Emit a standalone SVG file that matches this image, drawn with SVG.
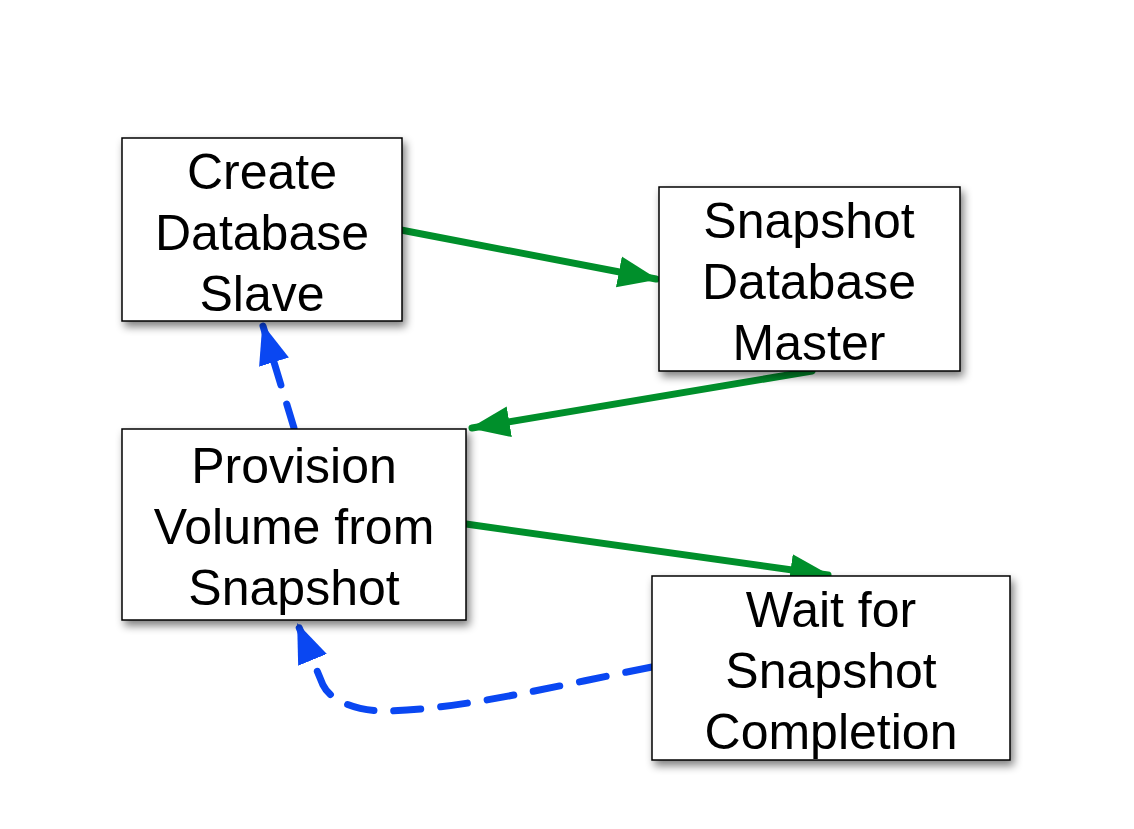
<svg xmlns="http://www.w3.org/2000/svg" width="1134" height="829" viewBox="0 0 1134 829">
<style>
.box{fill:#fff;stroke:#000;stroke-width:1.5;filter:url(#sh)}
.t{font-family:"Liberation Sans",Arial,sans-serif;font-size:50px;fill:#000;text-anchor:middle}
.g{fill:none;stroke:#008f2b;stroke-width:7;stroke-linecap:round;marker-end:url(#ag)}
.b{fill:none;stroke:#0a47f2;stroke-width:7;stroke-linecap:round;marker-end:url(#ab)}
</style>
<defs>
<filter id="sh" x="-10%" y="-10%" width="130%" height="130%">
<feGaussianBlur in="SourceAlpha" stdDeviation="4"/>
<feOffset dx="3" dy="5" result="o"/>
<feComponentTransfer><feFuncA type="linear" slope="0.5"/></feComponentTransfer>
<feMerge><feMergeNode/><feMergeNode in="SourceGraphic"/></feMerge>
</filter>
<marker id="ag" markerUnits="userSpaceOnUse" markerWidth="40" markerHeight="40" viewBox="0 0 36 28" refX="34" refY="14" orient="auto">
<path d="M0,0 L36,14 L0,28 Z" fill="#008f2b"/>
</marker>
<marker id="ab" markerUnits="userSpaceOnUse" markerWidth="40" markerHeight="40" viewBox="0 0 36 28" refX="34" refY="14" orient="auto">
<path d="M0,0 L36,14 L0,28 Z" fill="#0a47f2"/>
</marker>
</defs>
<g id="connectors">
<path class="g" d="M401,230 L656,279"/>
<path class="g" d="M812,371 L472,428"/>
<path class="g" d="M466,524 L828,575"/>
<path class="b" d="M294,428 L263,326" stroke-dasharray="25 20"/>
<path class="b" d="M652,667 C560,685 460,710 385,711 C355,711 330,700 323,685 L298,625" stroke-dasharray="27 20"/>
</g>
<g id="create">
<rect class="box" x="122" y="138" width="280" height="183"/>
<text class="t" x="262" y="189">Create</text>
<text class="t" x="262" y="250">Database</text>
<text class="t" x="262" y="311">Slave</text>
</g>
<g id="snapshot">
<rect class="box" x="659" y="187" width="301" height="184"/>
<text class="t" x="809" y="238">Snapshot</text>
<text class="t" x="809" y="299">Database</text>
<text class="t" x="809" y="360">Master</text>
</g>
<g id="provision">
<rect class="box" x="122" y="429" width="344" height="191"/>
<text class="t" x="294" y="483">Provision</text>
<text class="t" x="294" y="544">Volume from</text>
<text class="t" x="294" y="605">Snapshot</text>
</g>
<g id="wait">
<rect class="box" x="652" y="576" width="358" height="184"/>
<text class="t" x="831" y="627">Wait for</text>
<text class="t" x="831" y="688">Snapshot</text>
<text class="t" x="831" y="749">Completion</text>
</g>
</svg>
